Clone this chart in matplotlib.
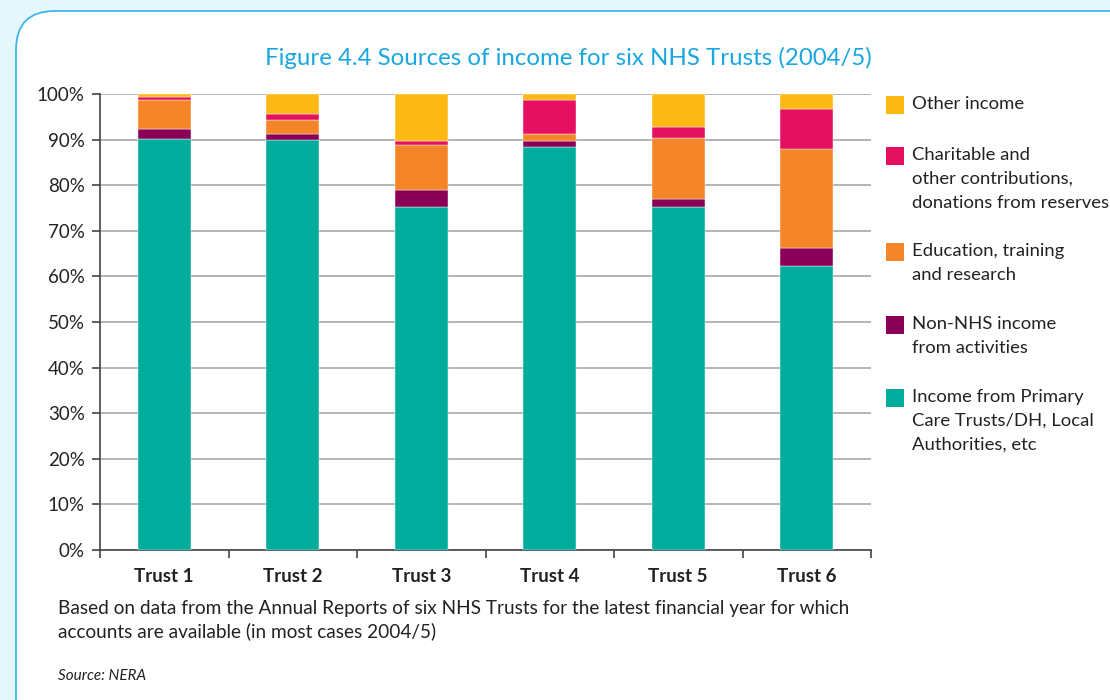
import matplotlib
matplotlib.use("Agg")
import matplotlib.pyplot as plt
from matplotlib.patches import FancyBboxPatch, Rectangle

plt.rcParams['font.family'] = ['Lato', 'DejaVu Sans']

# Data: share of income (%) per trust, stacked bottom to top
trusts = ["Trust 1", "Trust 2", "Trust 3", "Trust 4", "Trust 5", "Trust 6"]
primary_care = [90.1, 89.9, 75.2, 88.4, 75.2, 62.3]
non_nhs = [2.2, 1.3, 3.7, 1.3, 1.8, 3.9]
education = [6.4, 3.1, 9.9, 1.5, 13.4, 21.7]
charitable = [0.6, 1.3, 1.0, 7.4, 2.4, 8.8]
other = [0.7, 4.4, 10.2, 1.4, 7.2, 3.3]

series_labels = [
    "Income from Primary\nCare Trusts/DH, Local\nAuthorities, etc",
    "Non-NHS income\nfrom activities",
    "Education, training\nand research",
    "Charitable and\nother contributions,\ndonations from reserves",
    "Other income",
]
series_values = [primary_care, non_nhs, education, charitable, other]
series_colors = ["#00ad9c", "#8b0057", "#f58529", "#e5105f", "#fdb913"]

W, H = 1110, 700
fig = plt.figure(figsize=(W / 100, H / 100), dpi=100)
fig.patch.set_facecolor("#e6f6fd")

# White panel with rounded corners, kept behind everything else
panel = FancyBboxPatch((16 / W, -0.1), 1.2, 0.1 + (H - 11) / H,
                       boxstyle="round,pad=0,rounding_size=0.035",
                       transform=fig.transFigure, facecolor="white",
                       edgecolor="#3fb6e8", linewidth=1.3,
                       mutation_aspect=W / H, zorder=-10)
fig.patches.append(panel)

ax = fig.add_axes([100 / W, (H - 550) / H, 771 / W, (550 - 94) / H])
ax.set_facecolor("none")
ax.set_zorder(5)

x = list(range(len(trusts)))
bottom = [0.0] * len(trusts)
for vals, col in zip(series_values, series_colors):
    ax.bar(x, vals, width=0.41, bottom=bottom, color=col,
           edgecolor="white", linewidth=0.3, zorder=3)
    bottom = [b + v for b, v in zip(bottom, vals)]

ax.set_xlim(-0.5, 5.5)
ax.set_ylim(0, 100)
ax.set_yticks(range(0, 101, 10))
ax.set_yticklabels([f"{v}%" for v in range(0, 101, 10)], fontsize=13.5,
                   color="#222222")
ax.yaxis.grid(True, color="#b4b4b4", linewidth=1.4, zorder=1)
ax.set_axisbelow(True)

ax.set_xticks(x)
ax.set_xticklabels(trusts, fontsize=13.5, fontweight="bold", color="#222222")
ax.set_xticks([i - 0.5 for i in range(len(trusts) + 1)], minor=True)
ax.tick_params(axis="x", which="major", length=0, pad=13)
ax.tick_params(axis="x", which="minor", length=6, width=1.2,
               color="#444444", direction="out")
ax.tick_params(axis="y", which="major", length=6, width=1.2,
               color="#444444", direction="out", pad=5)

for side in ("top", "right"):
    ax.spines[side].set_visible(False)
for side in ("left", "bottom"):
    ax.spines[side].set_color("#444444")
    ax.spines[side].set_linewidth(1.2)

fig.text(568 / W, 1 - 58 / H,
         "Figure 4.4 Sources of income for six NHS Trusts (2004/5)",
         ha="center", va="center", fontsize=17.3, color="#1aa7e0")

# Legend, top entry first
legend_rows = [(4, 105), (3, 156), (2, 252), (1, 325), (0, 398)]
for idx, y_px in legend_rows:
    fig.patches.append(Rectangle((886 / W, 1 - (y_px + 9) / H), 18 / W, 18 / H,
                                 transform=fig.transFigure,
                                 facecolor=series_colors[idx], edgecolor="none"))
    fig.text(912 / W, 1 - (y_px - 9) / H, series_labels[idx],
             ha="left", va="top", fontsize=13.3, color="#222222",
             linespacing=1.62)

fig.text(58 / W, 1 - 600 / H,
         "Based on data from the Annual Reports of six NHS Trusts for the latest financial year for which\n"
         "accounts are available (in most cases 2004/5)",
         ha="left", va="top", fontsize=13.7, color="#222222", linespacing=1.38)
fig.text(58 / W, 1 - 676 / H, "Source: NERA", ha="left", va="center",
         fontsize=11, style="italic", color="#222222")

fig.savefig("out.png", dpi=100, facecolor=fig.get_facecolor())
